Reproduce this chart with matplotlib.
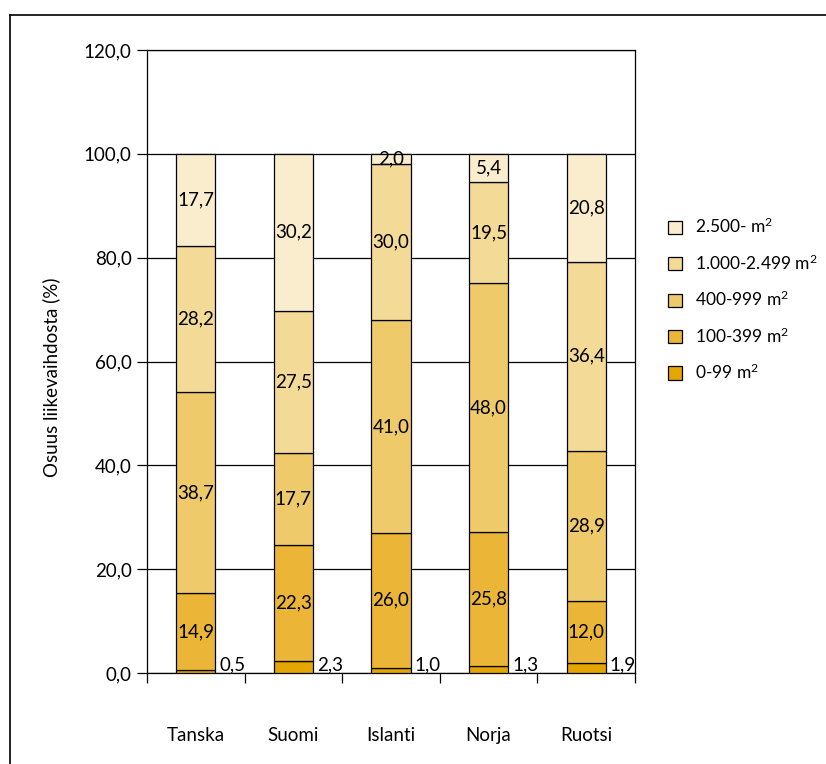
import numpy as np
import matplotlib.pyplot as plt
from matplotlib.lines import Line2D

plt.rcParams['font.family'] = ['Lato', 'DejaVu Sans']
plt.rcParams['mathtext.default'] = 'regular'

maat = ['Tanska', 'Suomi', 'Islanti', 'Norja', 'Ruotsi']
luokat = ['0-99 m$^{2}$', '100-399 m$^{2}$', '400-999 m$^{2}$',
          '1.000-2.499 m$^{2}$', '2.500- m$^{2}$']
v_0_99 = [0.5, 2.3, 1.0, 1.3, 1.9]
v_100_399 = [14.9, 22.3, 26.0, 25.8, 12.0]
v_400_999 = [38.7, 17.7, 41.0, 48.0, 28.9]
v_1000_2499 = [28.2, 27.5, 30.0, 19.5, 36.4]
v_2500 = [17.7, 30.2, 2.0, 5.4, 20.8]
sarjat = [v_0_99, v_100_399, v_400_999, v_1000_2499, v_2500]
varit = ['#E4A500', '#EBB637', '#EECA6A', '#F4DA97', '#FAEDCD']
fs = 13.5

fig = plt.figure(figsize=(8.26, 7.64), dpi=100)
ax = fig.add_axes([147/826, 91/764, 488/826, 623/764])

x = np.arange(len(maat))
w = 0.40
pohja = np.zeros(len(maat))
for i, (arvot, vari) in enumerate(zip(sarjat, varit)):
    arvot = np.array(arvot)
    ax.bar(x, arvot, w, bottom=pohja, color=vari, edgecolor='black',
           linewidth=0.9, label=luokat[i], zorder=3)
    for xi, b, v in zip(x, pohja, arvot):
        teksti = ('%.1f' % v).replace('.', ',')
        if i == 0:
            ax.annotate(teksti, (xi + w / 2, 0), xytext=(3, 0),
                        textcoords='offset points', ha='left', va='bottom',
                        fontsize=fs, zorder=4)
        else:
            ax.text(xi, b + v / 2, teksti, ha='center', va='center',
                    fontsize=fs, zorder=4)
    pohja = pohja + arvot

ax.set_xlim(-0.5, 4.5)
ax.set_ylim(0, 120)
ax.set_yticks(np.arange(0, 121, 20))
ax.set_yticklabels([('%.1f' % t).replace('.', ',') for t in np.arange(0, 121, 20)],
                   fontsize=fs)
ax.yaxis.grid(True, color='black', linewidth=0.9, zorder=0)

ax.set_xticks(np.arange(-0.5, 5, 1))
ax.set_xticklabels([])
ax.set_xticks(x, minor=True)
ax.set_xticklabels(maat, minor=True, fontsize=fs)
ax.tick_params(axis='x', which='minor', length=0, pad=39)
ax.tick_params(axis='both', which='major', direction='out', length=7, width=0.9)
ax.tick_params(axis='y', pad=4)
for s in ax.spines.values():
    s.set_linewidth(0.9)

ax.set_ylabel('Osuus liikevaihdosta (%)', fontsize=fs)
ax.yaxis.set_label_coords(-0.178, 0.474)

h, l = ax.get_legend_handles_labels()
fig.legend(h[::-1], l[::-1], loc='upper left', bbox_to_anchor=(668/826, 1 - 217/764),
           frameon=False, fontsize=12.5, handlelength=0.8, handleheight=0.8,
           handletextpad=0.75, labelspacing=0.98, borderpad=0, borderaxespad=0)

# kehys kuvan ympärillä
fig.add_artist(Line2D([10/826, 1.0], [1 - 15/764, 1 - 15/764], color='black',
                      linewidth=1.2, transform=fig.transFigure))
fig.add_artist(Line2D([10/826, 10/826], [0, 1 - 15/764], color='black',
                      linewidth=1.2, transform=fig.transFigure))

fig.savefig('out.png', dpi=100)
